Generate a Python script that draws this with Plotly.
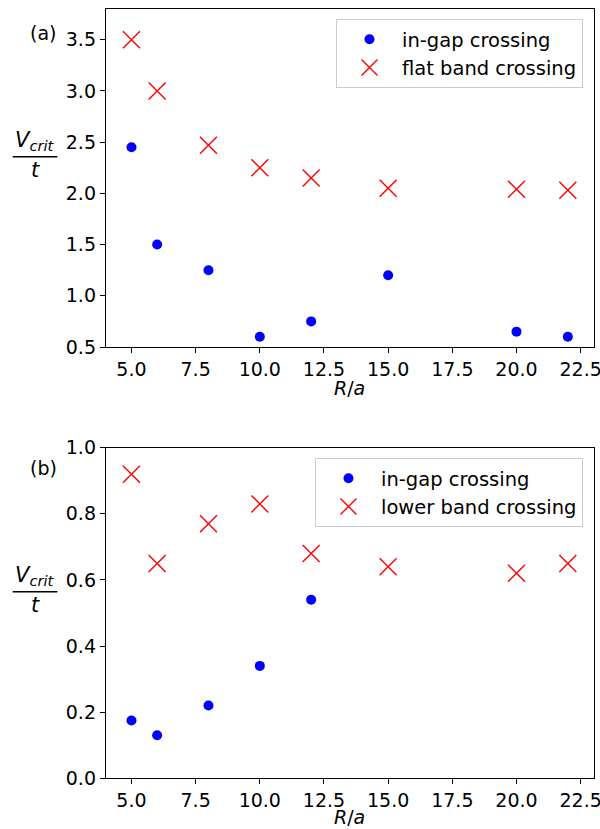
import plotly.graph_objects as go

# ---------------- data ----------------
R_top = [5, 6, 8, 10, 12, 15, 20, 22]
ingap_top = [2.45, 1.5, 1.25, 0.6, 0.75, 1.2, 0.65, 0.6]
flat_top = [3.5, 3.0, 2.47, 2.25, 2.15, 2.05, 2.04, 2.03]

R_bot_gap = [5, 6, 8, 10, 12]
ingap_bot = [0.175, 0.13, 0.22, 0.34, 0.54]
R_bot = [5, 6, 8, 10, 12, 15, 20, 22]
lower_bot = [0.92, 0.65, 0.77, 0.83, 0.68, 0.64, 0.62, 0.65]

x_ticks = [5.0, 7.5, 10.0, 12.5, 15.0, 17.5, 20.0, 22.5]
y_ticks_top = [0.5, 1.0, 1.5, 2.0, 2.5, 3.0, 3.5]
y_ticks_bot = [0.0, 0.2, 0.4, 0.6, 0.8, 1.0]

# ---------------- layout helpers ----------------
W, H = 600, 829
FONT = "DejaVu Sans"


def px(x):
    return x / W


def py(y):
    return 1 - y / H


BLUE = "#0000ff"
RED = "#ff0000"

fig = go.Figure()

fig.add_trace(go.Scatter(x=R_top, y=ingap_top, mode="markers", name="in-gap crossing",
                         marker=dict(symbol="circle", size=10, color=BLUE, line=dict(width=0)),
                         xaxis="x", yaxis="y", legend="legend"))
fig.add_trace(go.Scatter(x=R_top, y=flat_top, mode="markers", name="flat band crossing",
                         marker=dict(symbol="x-thin", size=17, color=RED, line=dict(width=1.4, color=RED)),
                         xaxis="x", yaxis="y", legend="legend"))
fig.add_trace(go.Scatter(x=R_bot_gap, y=ingap_bot, mode="markers", name="in-gap crossing",
                         marker=dict(symbol="circle", size=10, color=BLUE, line=dict(width=0)),
                         xaxis="x2", yaxis="y2", legend="legend2"))
fig.add_trace(go.Scatter(x=R_bot, y=lower_bot, mode="markers", name="lower band crossing",
                         marker=dict(symbol="x-thin", size=17, color=RED, line=dict(width=1.4, color=RED)),
                         xaxis="x2", yaxis="y2", legend="legend2"))

axis_common = dict(showline=True, linecolor="black", linewidth=1, mirror=True,
                   ticks="outside", ticklen=5, tickwidth=1, tickcolor="black",
                   showgrid=False, zeroline=False, automargin=False,
                   ticklabeloverflow="allow",
                   tickfont=dict(family=FONT, size=19, color="black"))

xdom = [px(105.8), px(593.5)]
legend_common = dict(xanchor="right", yanchor="top",
                     bordercolor="#cccccc", borderwidth=1, bgcolor="rgba(255,255,255,0.8)",
                     font=dict(family=FONT, size=19.5, color="black"), itemwidth=55)
fig.update_layout(
    width=W, height=H,
    margin=dict(l=0, r=0, t=0, b=0),
    paper_bgcolor="white", plot_bgcolor="white",
    font=dict(family=FONT, size=19, color="black"),
    xaxis=dict(domain=xdom, range=[4, 23], tickvals=x_ticks, tickformat=".1f",
               anchor="y", **axis_common),
    yaxis=dict(domain=[py(347), py(9)], range=[0.5, 3.8], tickvals=y_ticks_top,
               tickformat=".1f", anchor="x", **axis_common),
    xaxis2=dict(domain=xdom, range=[4, 23], tickvals=x_ticks, tickformat=".1f",
                anchor="y2", **axis_common),
    yaxis2=dict(domain=[py(778.3), py(447.7)], range=[0, 1.0], tickvals=y_ticks_bot,
                tickformat=".1f", anchor="x2", **axis_common),
    legend=dict(x=px(583), y=py(19), **legend_common),
    legend2=dict(x=px(583), y=py(458), **legend_common),
    showlegend=True,
)

annotations = []
shapes = []
for bar_y, xl_y, lab, lab_y in [(156.7, 388, "(a)", 33), (591.7, 817, "(b)", 468)]:
    annotations.append(dict(text="<i>V</i><sub><i>crit</i></sub>", x=px(35), y=py(bar_y - 16),
                            xref="paper", yref="paper", xanchor="center", yanchor="middle",
                            showarrow=False, font=dict(family=FONT, size=21, color="black")))
    annotations.append(dict(text="<i>t</i>", x=px(35), y=py(bar_y + 13),
                            xref="paper", yref="paper", xanchor="center", yanchor="middle",
                            showarrow=False, font=dict(family=FONT, size=21, color="black")))
    shapes.append(dict(type="line", xref="paper", yref="paper",
                       x0=px(12.7), x1=px(57.3), y0=py(bar_y), y1=py(bar_y),
                       line=dict(color="black", width=1.5)))
    annotations.append(dict(text="<i>R</i>/<i>a</i>", x=px(349.7), y=py(xl_y),
                            xref="paper", yref="paper", xanchor="center", yanchor="middle",
                            showarrow=False, font=dict(family=FONT, size=19, color="black")))
    annotations.append(dict(text=lab, x=px(43), y=py(lab_y),
                            xref="paper", yref="paper", xanchor="center", yanchor="middle",
                            showarrow=False, font=dict(family=FONT, size=19, color="black")))

fig.update_layout(annotations=annotations, shapes=shapes)

fig.write_html("out.html")
